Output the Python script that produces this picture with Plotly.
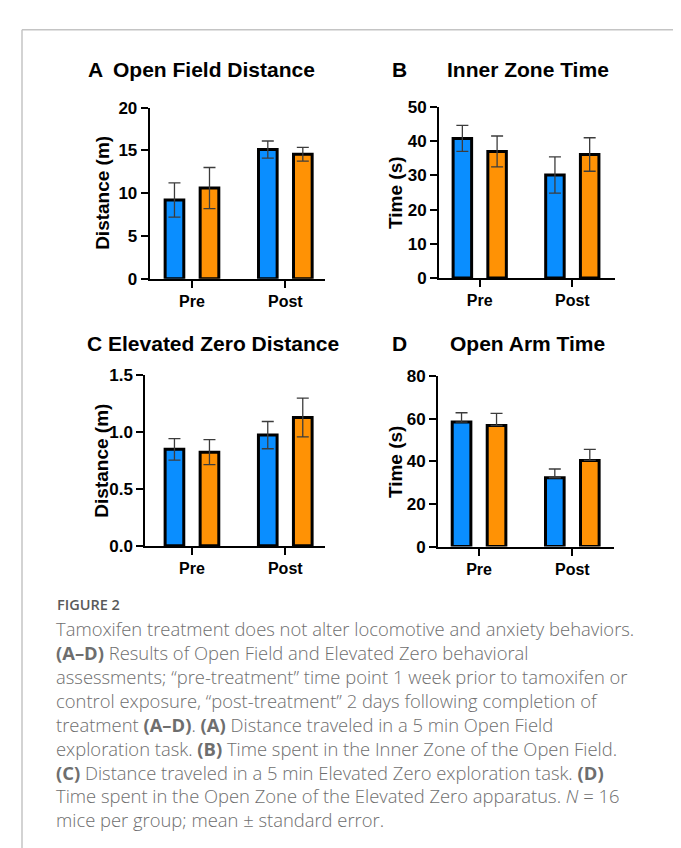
import plotly.graph_objects as go

W, H = 681, 848

categories = ["Pre", "Post"]
cat_pos = [0, 1]

# Panel A: Open Field Distance (m)
a_ctrl = [9.2, 15.1]
a_ctrl_se = [2.0, 1.0]
a_tam = [10.6, 14.55]
a_tam_se = [2.4, 0.8]

# Panel B: Inner Zone Time (s)
b_ctrl = [40.8, 30.1]
b_ctrl_se = [3.8, 5.3]
b_tam = [37.0, 36.1]
b_tam_se = [4.5, 4.9]

# Panel C: Elevated Zero Distance (m)
c_ctrl = [0.85, 0.975]
c_ctrl_se = [0.095, 0.12]
c_tam = [0.825, 1.13]
c_tam_se = [0.11, 0.17]

# Panel D: Open Arm Time (s)
d_ctrl = [58.4, 32.3]
d_ctrl_se = [4.4, 4.1]
d_tam = [56.8, 40.4]
d_tam_se = [5.7, 5.2]

BLUE = "#0A8EFF"
ORANGE = "#FF9205"
FONT = "Liberation Sans, Arial, sans-serif"


def px(x):
    return x / W


def py(y):
    return 1 - y / H


panels = [
    dict(ctrl=a_ctrl, cse=a_ctrl_se, tam=a_tam, tse=a_tam_se, xd=(141.7, 316.7), yd=(92.7, 267.7),
         xr=(-0.453, 1.422), yr=(0, 20), dt=5, fmt="", yt="Distance (m)", title="Open Field Distance",
         letter="A", lx=78, tx=103, ytx=93.7, upper=False),
    dict(ctrl=b_ctrl, cse=b_ctrl_se, tam=b_tam, tse=b_tam_se, xd=(431, 606.7), yd=(92, 267),
         xr=(-0.44, 1.458), yr=(0, 50), dt=10, fmt="", yt="Time (s)", title="Inner Zone Time",
         letter="B", lx=381.7, tx=437, ytx=387.5, upper=False),
    dict(ctrl=c_ctrl, cse=c_ctrl_se, tam=c_tam, tse=c_tam_se, xd=(137.3, 317.3), yd=(366.7, 541),
         xr=(-0.5, 1.429), yr=(0, 1.5), dt=0.5, fmt=".1f", yt="Distance (m)", title="Elevated Zero Distance",
         letter="C", lx=76.7, tx=98, ytx=94, upper=False),
    dict(ctrl=d_ctrl, cse=d_ctrl_se, tam=d_tam, tse=d_tam_se, xd=(430, 606), yd=(367.3, 541.7),
         xr=(-0.44, 1.447), yr=(0, 80), dt=20, fmt="", yt="Time (s)", title="Open Arm Time",
         letter="D", lx=381.7, tx=440, ytx=387.8, upper=True),
]

fig = go.Figure()
annotations = []
half_gap = 0.1876
bw = 0.2

for i, p in enumerate(panels):
    n = "" if i == 0 else str(i + 1)
    xa, ya = "x" + n, "y" + n
    for name, vals, se, col, off in [("Control", p["ctrl"], p["cse"], BLUE, -half_gap - bw / 2),
                                     ("Tamoxifen", p["tam"], p["tse"], ORANGE, half_gap - bw / 2)]:
        if p["upper"]:
            err = dict(type="data", array=se, arrayminus=[0] * len(se), symmetric=False,
                       color="#3c3c3c", thickness=1.3, width=6)
        else:
            err = dict(type="data", array=se, color="#3c3c3c", thickness=1.3, width=6)
        fig.add_trace(go.Bar(
            name=name, x=cat_pos, y=vals, width=bw, offset=off,
            marker=dict(color=col, line=dict(color="black", width=3)),
            error_y=err, xaxis=xa, yaxis=ya, showlegend=False,
        ))
    fig.update_layout(**{
        "xaxis" + n: dict(domain=[px(p["xd"][0]), px(p["xd"][1])], range=list(p["xr"]),
                          anchor=ya, tickvals=cat_pos, ticktext=categories,
                          showline=True, linecolor="black", linewidth=2,
                          ticks="outside", ticklen=7, tickwidth=2, tickcolor="black",
                          showgrid=False, zeroline=False, fixedrange=True,
                          tickfont=dict(family=FONT, size=16, color="black", weight="bold")),
        "yaxis" + n: dict(domain=[py(p["yd"][1]), py(p["yd"][0])], range=list(p["yr"]),
                          anchor=xa, dtick=p["dt"], tick0=0, tickformat=p["fmt"],
                          showline=True, linecolor="black", linewidth=2,
                          ticks="outside", ticklen=7, tickwidth=2, tickcolor="black",
                          showgrid=False, zeroline=False, fixedrange=True,
                          tickfont=dict(family=FONT, size=17, color="black", weight="bold")),
    })
    ty = 54 if i < 2 else 334
    annotations.append(dict(text=p["letter"], x=px(p["lx"]), y=py(ty), xref="paper", yref="paper",
                            xanchor="left", yanchor="middle", showarrow=False,
                            font=dict(family=FONT, size=21, color="black", weight="bold")))
    annotations.append(dict(text=p["title"], x=px(p["tx"]), y=py(ty), xref="paper", yref="paper",
                            xanchor="left", yanchor="middle", showarrow=False,
                            font=dict(family=FONT, size=21, color="black", weight="bold")))
    ymid = (p["yd"][0] + p["yd"][1]) / 2
    annotations.append(dict(text=p["yt"], x=px(p["ytx"]), y=py(ymid), xref="paper", yref="paper",
                            xanchor="center", yanchor="middle", textangle=-90, showarrow=False,
                            font=dict(family=FONT, size=19, color="black", weight="bold")))

CAP = "Open Sans, sans-serif"
CAP_COLOR = "#6e6e6e"
annotations.append(dict(text="FIGURE 2", x=px(47), y=py(601), xref="paper", yref="paper",
                        xanchor="left", yanchor="middle", showarrow=False,
                        font=dict(family=CAP, size=14.5, color="#5a5a5a", weight=600)))

caption_lines = [
    "Tamoxifen treatment does not alter locomotive and anxiety behaviors.",
    "<b>(A–D)</b> Results of Open Field and Elevated Zero behavioral",
    "assessments; “pre-treatment” time point 1 week prior to tamoxifen or",
    "control exposure, “post-treatment” 2 days following completion of",
    "treatment <b>(A–D)</b>. <b>(A)</b> Distance traveled in a 5 min Open Field",
    "exploration task. <b>(B)</b> Time spent in the Inner Zone of the Open Field.",
    "<b>(C)</b> Distance traveled in a 5 min Elevated Zero exploration task. <b>(D)</b>",
    "Time spent in the Open Zone of the Elevated Zero apparatus. <i>N</i> = 16",
    "mice per group; mean ± standard error.",
]
CAP_SIZE = 18.4
annotations.append(dict(text="<br>".join(caption_lines), x=px(46), y=py(626.7 - CAP_SIZE * 1.3 / 2 - 4),
                        xref="paper", yref="paper", xanchor="left", yanchor="top", align="left",
                        showarrow=False,
                        font=dict(family=CAP, size=CAP_SIZE, color=CAP_COLOR, weight=300)))

shapes = [
    dict(type="line", xref="paper", yref="paper", x0=px(14), x1=px(14), y0=py(13), y1=-0.02,
         line=dict(color="#c4c4c4", width=1.5)),
    dict(type="line", xref="paper", yref="paper", x0=px(673), x1=px(673), y0=py(13), y1=-0.02,
         line=dict(color="#c4c4c4", width=1.5)),
    dict(type="line", xref="paper", yref="paper", x0=px(14), x1=px(673), y0=py(13), y1=py(13),
         line=dict(color="#c4c4c4", width=1.5)),
]

fig.update_layout(
    width=W, height=H, margin=dict(l=0, r=0, t=0, b=0),
    paper_bgcolor="white", plot_bgcolor="white",
    barmode="overlay", annotations=annotations, shapes=shapes,
    font=dict(family=FONT),
)

fig.write_html("out.html")
